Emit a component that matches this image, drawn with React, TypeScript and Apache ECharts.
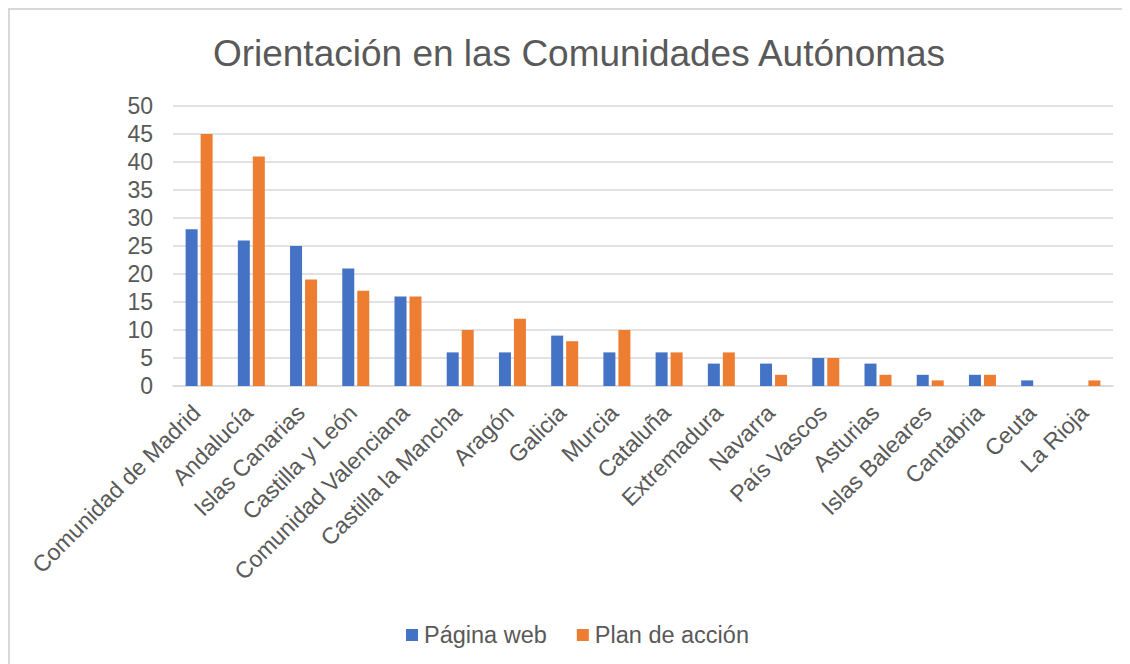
import React, { useEffect, useRef } from "react";
import * as echarts from "echarts";

const categories = [
  "Comunidad de Madrid",
  "Andalucía",
  "Islas Canarias",
  "Castilla y León",
  "Comunidad Valenciana",
  "Castilla la Mancha",
  "Aragón",
  "Galicia",
  "Murcia",
  "Cataluña",
  "Extremadura",
  "Navarra",
  "País Vascos",
  "Asturias",
  "Islas Baleares",
  "Cantabria",
  "Ceuta",
  "La Rioja",
];
const paginaWeb = [28, 26, 25, 21, 16, 6, 6, 9, 6, 6, 4, 4, 5, 4, 2, 2, 1, 0];
const planAccion = [45, 41, 19, 17, 16, 10, 12, 8, 10, 6, 6, 2, 5, 2, 1, 2, 0, 1];
const seriesNames = ["Página web", "Plan de acción"];
const titleText = "Orientación en las Comunidades Autónomas";

const FONT = "'Liberation Sans', Arial, sans-serif";
const TEXT = "#595959";

export default function App() {
  const ref = useRef<HTMLDivElement>(null);
  useEffect(() => {
    if (!ref.current) return;
    const chart = echarts.init(ref.current, undefined, { renderer: "svg" });
    chart.setOption({
      animation: false,
      backgroundColor: "#ffffff",
      title: {
        text: titleText,
        left: 564,
        top: 20,
        textAlign: "center",
        textStyle: { fontFamily: FONT, fontSize: 37, fontWeight: "normal", color: TEXT },
      },
      legend: {
        data: seriesNames,
        left: 391,
        top: 608,
        itemWidth: 12,
        itemHeight: 12,
        itemGap: 30,
        icon: "rect",
        textStyle: { fontFamily: FONT, fontSize: 23.5, color: TEXT, padding: [0, 0, 0, 1] },
      },
      grid: { left: 163, right: 17, top: 96, bottom: 278, containLabel: false },
      xAxis: {
        type: "category",
        data: categories,
        axisLine: { lineStyle: { color: "#d9d9d9", width: 1.5 } },
        axisTick: { show: false },
        axisLabel: {
          rotate: 45,
          interval: 0,
          margin: 20,
          padding: [0, 4, 0, 0],
          fontFamily: FONT,
          fontSize: 23,
          color: TEXT,
        },
      },
      yAxis: {
        type: "value",
        min: 0,
        max: 50,
        interval: 5,
        axisLine: { show: false },
        axisTick: { show: false },
        splitLine: { lineStyle: { color: "#d9d9d9", width: 1.5 } },
        axisLabel: { margin: 20, fontFamily: FONT, fontSize: 23, color: TEXT },
      },
      series: [
        {
          name: seriesNames[0],
          type: "bar",
          data: paginaWeb,
          barWidth: 12,
          barGap: "25%",
          itemStyle: { color: "#4472C4" },
        },
        {
          name: seriesNames[1],
          type: "bar",
          data: planAccion,
          barWidth: 12,
          itemStyle: { color: "#ED7D31" },
        },
      ],
    });
    return () => chart.dispose();
  }, []);
  return (
    <div
      style={{
        width: 1122,
        height: 656,
        boxSizing: "border-box",
        borderTop: "2px solid #d9d9d9",
        borderLeft: "2px solid #d9d9d9",
        background: "#fff",
        overflow: "hidden",
      }}
    >
      <div ref={ref} style={{ width: 1120, height: 654 }} />
    </div>
  );
}
